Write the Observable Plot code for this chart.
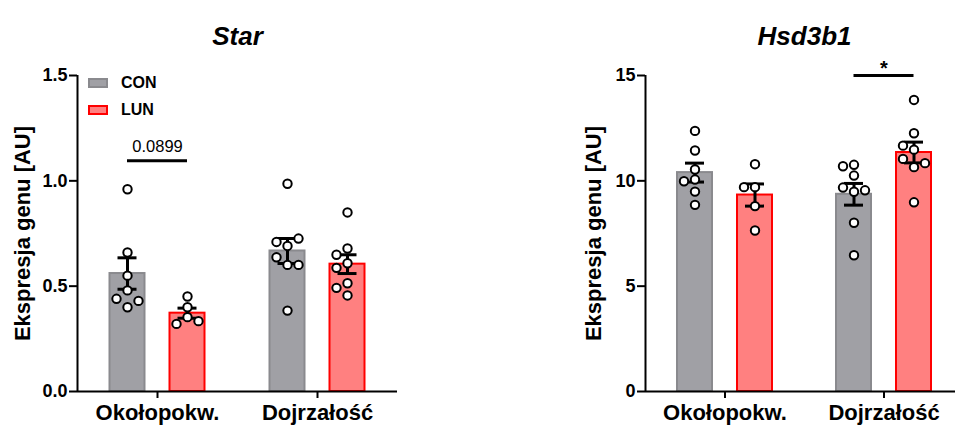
<!DOCTYPE html>
<html>
<head>
<meta charset="utf-8">
<script src="https://cdn.jsdelivr.net/npm/d3@7"></script>
<script src="https://cdn.jsdelivr.net/npm/@observablehq/plot@0.6"></script>
<style>
  html, body { margin: 0; padding: 0; background: #fff; overflow: hidden; }
  #wrap { position: relative; width: 955px; height: 425px; overflow: hidden; font-family: Arial, "Liberation Sans", sans-serif; color: #000; }
  .panel { position: absolute; top: 0; }
  .legend { position: absolute; left: 88px; top: 69px; font: bold 16px Arial, "Liberation Sans", sans-serif; }
  .legend .row { display: flex; align-items: center; height: 27px; }
  .legend .sw { width: 20px; height: 10px; box-sizing: border-box; border: 2px solid; margin-right: 13px; }
</style>
</head>
<body>
<div id="wrap"></div>
<script>
// ---------- data ----------
const groups = ["Okołopokw.", "Dojrzałość"];
const conditions = ["CON", "LUN"];

// Star
const star_Okol_CON = [0.96, 0.66, 0.55, 0.48, 0.44, 0.40, 0.43];
const star_Okol_LUN = [0.451, 0.40, 0.353, 0.321, 0.334];
const star_Dojr_CON = [0.986, 0.691, 0.71, 0.726, 0.601, 0.637, 0.601, 0.384];
const star_Dojr_LUN = [0.85, 0.679, 0.649, 0.609, 0.587, 0.514, 0.492, 0.456];
const starTicks = [0, 0.5, 1.0, 1.5];
const starSig = { group: "Okołopokw.", y: 1.095, label: "0.0899" };

// Hsd3b1
const hsd_Okol_CON = [12.37, 11.44, 10.54, 10.06, 9.98, 9.49, 8.86];
const hsd_Okol_LUN = [10.79, 9.70, 9.70, 8.80, 7.64];
const hsd_Dojr_CON = [10.76, 10.69, 10.25, 9.48, 9.68, 9.55, 8.01, 6.47];
const hsd_Dojr_LUN = [13.84, 12.26, 11.48, 11.67, 11.04, 10.65, 10.84, 8.98];
const hsdTicks = [0, 5, 10, 15];
const hsdSig = { group: "Dojrzałość", y: 15, label: "*" };

const yLabel = "Ekspresja genu [AU]";

// ---------- styles ----------
const FONT = 'Arial, "Liberation Sans", sans-serif';
const fills = { CON: "#a0a0a5", LUN: "#ff8080" };
const strokes = { CON: "#8a8a8e", LUN: "#ff0000" };
const BAR_OFFSET = 30;   // px from group centre
const BAR_HALF = 17.5;   // px
const CAP_HALF = 9.5;    // px
const DODGE_STEP = 11;   // px
const DODGE_H = 9.5;     // px

function dodge(values, yPx) {
  const placed = [];
  return values.map(v => {
    const py = yPx(v);
    for (const k of [0, -1, 1, -2, 2, -3, 3]) {
      if (!placed.some(p => p.k === k && Math.abs(p.py - py) < DODGE_H)) {
        placed.push({ k, py });
        return k * DODGE_STEP;
      }
    }
    return 0;
  });
}

function panel(o) {
  const { title, arrays, yDomain, yTicks, yFormat, width, marginLeft, marginRight, sig, sigFont, sigWeight, sigDy, labelDx } = o;
  const height = 425, marginTop = 75, marginBottom = 34;
  const ppu = (width - marginLeft - marginRight) / 2;
  const yPx = d3.scaleLinear(yDomain, [height - marginBottom, marginTop]);
  const bars = [], points = [];
  groups.forEach((g, gi) => conditions.forEach((c, ci) => {
    const vals = arrays[gi][ci];
    const xc = gi + (ci === 0 ? -1 : 1) * BAR_OFFSET / ppu;
    const mean = d3.mean(vals);
    const sem = d3.deviation(vals) / Math.sqrt(vals.length);
    bars.push({ g, c, xc, mean, sem });
    const offs = dodge(vals, yPx);
    vals.forEach((v, i) => points.push({ g, c, v, x: xc + offs[i] / ppu }));
  }));
  const sg = groups.indexOf(sig.group);
  const sigRow = [{
    x1: bars.find(b => b.g === sig.group && b.c === "CON").xc,
    x2: bars.find(b => b.g === sig.group && b.c === "LUN").xc,
    xm: sg, y: sig.y, label: sig.label
  }];
  const barMarks = conditions.map(c => Plot.rectY(bars.filter(b => b.c === c), {
    x1: b => b.xc - BAR_HALF / ppu, x2: b => b.xc + BAR_HALF / ppu,
    y1: yDomain[0], y2: "mean", fill: fills[c], stroke: strokes[c], strokeWidth: 2
  }));
  return Plot.plot({
    width, height, marginTop, marginBottom, marginLeft, marginRight,
    x: { domain: [-0.5, 1.5] },
    y: { domain: yDomain },
    style: { fontFamily: FONT, color: "#000", background: "transparent", overflow: "visible" },
    marks: [
      ...barMarks,
      Plot.ruleX([-0.5], { y1: yDomain[0], y2: yDomain[1], strokeWidth: 2 }),
      Plot.ruleY([yDomain[0]], { x1: -0.5, x2: 1.5, strokeWidth: 2 }),
      Plot.axisY({ ticks: yTicks, tickFormat: yFormat, tickSize: 8, tickPadding: 2, fontSize: 18, fontWeight: "bold", strokeWidth: 2, label: null }),
      Plot.axisX({ ticks: [0, 1], tickFormat: i => groups[i], tickSize: 7, tickPadding: 6, fontSize: 22, fontWeight: "bold", strokeWidth: 2, label: null }),
      // error bars
      Plot.ruleX(bars, { x: "xc", y1: b => b.mean - b.sem, y2: b => b.mean + b.sem, strokeWidth: 3 }),
      Plot.ruleY(bars, { y: b => b.mean + b.sem, x1: b => b.xc - CAP_HALF / ppu, x2: b => b.xc + CAP_HALF / ppu, strokeWidth: 3 }),
      Plot.ruleY(bars, { y: b => b.mean - b.sem, x1: b => b.xc - CAP_HALF / ppu, x2: b => b.xc + CAP_HALF / ppu, strokeWidth: 3 }),
      // points
      Plot.dot(points, { x: "x", y: "v", r: 4.2, fill: "white", stroke: "black", strokeWidth: 2 }),
      // significance
      Plot.ruleY(sigRow, { y: "y", x1: "x1", x2: "x2", strokeWidth: 3 }),
      Plot.text(sigRow, { x: "xm", y: "y", text: "label", dy: sigDy, fontSize: sigFont, fontWeight: sigWeight }),
      // title & y label
      Plot.text([title], { frameAnchor: "top", dy: -49, fontSize: 26, fontWeight: "bold", fontStyle: "italic" }),
      Plot.text([yLabel], { frameAnchor: "left", textAnchor: "middle", rotate: -90, dx: labelDx, fontSize: 22, fontWeight: "bold" })
    ]
  });
}

const wrap = document.getElementById("wrap");

const left = panel({
  title: "Star",
  arrays: [[star_Okol_CON, star_Okol_LUN], [star_Dojr_CON, star_Dojr_LUN]],
  yDomain: [0, 1.5], yTicks: starTicks, yFormat: d3.format(".1f"),
  width: 480, marginLeft: 77, marginRight: 83,
  sig: starSig, sigFont: 16.5, sigWeight: "normal", sigDy: -14, labelDx: -55
});
left.classList.add("panel");
left.style.left = "0px";
wrap.appendChild(left);

const right = panel({
  title: "Hsd3b1",
  arrays: [[hsd_Okol_CON, hsd_Okol_LUN], [hsd_Dojr_CON, hsd_Dojr_LUN]],
  yDomain: [0, 15], yTicks: hsdTicks, yFormat: d3.format("d"),
  width: 405, marginLeft: 85, marginRight: 2,
  sig: hsdSig, sigFont: 20, sigWeight: "bold", sigDy: -7, labelDx: -52
});
right.classList.add("panel");
right.style.left = "560px";
wrap.appendChild(right);

// legend
const legend = document.createElement("div");
legend.className = "legend";
conditions.forEach(c => {
  const row = document.createElement("div");
  row.className = "row";
  const sw = document.createElement("span");
  sw.className = "sw";
  sw.style.background = fills[c];
  sw.style.borderColor = strokes[c];
  const lab = document.createElement("span");
  lab.textContent = c;
  row.appendChild(sw);
  row.appendChild(lab);
  legend.appendChild(row);
});
wrap.appendChild(legend);
</script>
</body>
</html>
